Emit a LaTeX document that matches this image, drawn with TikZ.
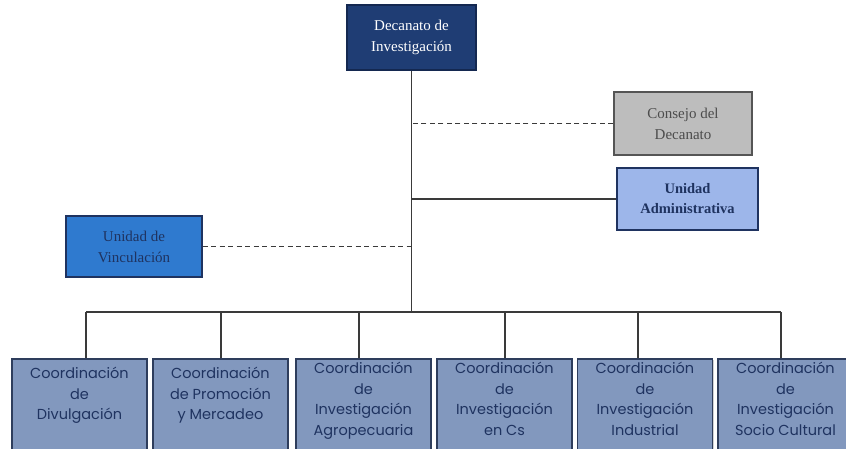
\documentclass[tikz,border=0pt]{standalone}
\usepackage{fontspec}
\setmainfont{Liberation Serif}
\newfontfamily\gothic{Poppins}
\usetikzlibrary{shadows}
\definecolor{topfill}{HTML}{1F3D74}
\definecolor{topdraw}{HTML}{142850}
\definecolor{consfill}{HTML}{BDBDBD}
\definecolor{consdraw}{HTML}{555555}
\definecolor{admfill}{HTML}{9DB6EA}
\definecolor{vinfill}{HTML}{2F7ACF}
\definecolor{navy}{HTML}{1F3360}
\definecolor{coordfill}{HTML}{8298BE}
\definecolor{coorddraw}{HTML}{2E3D5C}
\definecolor{linecol}{HTML}{3A3A3A}
\begin{document}
\begin{tikzpicture}[x=1pt,y=-1pt,
  box/.style={draw, line width=1.2pt, rectangle, align=center, inner sep=2pt,
    drop shadow={shadow xshift=1pt, shadow yshift=-1pt, opacity=0.35}},
  topbox/.style={box, fill=topfill, draw=topdraw, text=white, font=\fontsize{15}{21}\selectfont,
    minimum width=129pt, minimum height=65pt},
  consbox/.style={box, fill=consfill, draw=consdraw, text=black!70, font=\fontsize{15}{21}\selectfont,
    minimum width=138pt, minimum height=63pt},
  admbox/.style={box, fill=admfill, draw=navy, text=navy, font=\bfseries\fontsize{14.5}{20}\selectfont,
    minimum width=141pt, minimum height=62pt},
  vinbox/.style={box, fill=vinfill, draw=navy, text=navy, font=\fontsize{15}{21}\selectfont,
    minimum width=136pt, minimum height=61pt},
  coordbox/.style={box, fill=coordfill, draw=coorddraw, minimum width=135pt, minimum height=100pt},
  coordtext/.style={text=navy, align=center, inner sep=0pt, anchor=north,
    font=\gothic\fontsize{14.5}{20.5}\selectfont},
  conn/.style={draw=linecol, line width=1.1pt},
  dconn/.style={conn, dash pattern=on 5pt off 3.5pt}]
\useasboundingbox (0,0) rectangle (846,448);
\clip (0,0) rectangle (846,448);
\fill[white] (0,0) rectangle (846,448);

\coordinate (busC) at (411.5,312);
\coordinate (d1) at (86,312);
\coordinate (d2) at (221,312);
\coordinate (d3) at (359,312);
\coordinate (d4) at (505,312);
\coordinate (d5) at (638,312);
\coordinate (d6) at (781,312);

\node[topbox] (dec) at (411.5,37.5) {Decanato de\\Investigación};
\node[consbox] (cons) at (683,123.5) {Consejo del\\Decanato};
\node[admbox] (adm) at (687.5,199) {Unidad\\Administrativa};
\node[vinbox] (vin) at (134,246.5) {Unidad de\\Vinculación};

\node[coordbox] (c1) at (79.5,409) {};
\node[coordbox] (c2) at (220.5,409) {};
\node[coordbox] (c3) at (363.5,409) {};
\node[coordbox] (c4) at (504.5,409) {};
\node[coordbox] (c5) at (645,409) {};
\node[coordbox] (c6) at (785.5,409) {};

\draw[conn] (dec.south) -- (busC);
\draw[dconn] (cons.west) -- (cons.west -| busC);
\draw[conn] (adm.west) -- (adm.west -| busC);
\draw[dconn] (vin.east) -- (vin.east -| busC);
\draw[conn] (d1) -- (d6);
\draw[conn] (d1) -- (d1 |- c1.north);
\draw[conn] (d2) -- (d2 |- c2.north);
\draw[conn] (d3) -- (d3 |- c3.north);
\draw[conn] (d4) -- (d4 |- c4.north);
\draw[conn] (d5) -- (d5 |- c5.north);
\draw[conn] (d6) -- (d6 |- c6.north);

\node[coordtext] (t1) at (79.5,367) {Coordinación\\de\\Divulgación};
\node[coordtext] (t2) at (220.5,367) {Coordinación\\de Promoción\\y Mercadeo};
\node[coordtext] (t3) at (363.5,362) {Coordinación\\de\\Investigación\\Agropecuaria};
\node[coordtext] (t4) at (504.5,362) {Coordinación\\de\\Investigación\\en Cs};
\node[coordtext] (t5) at (645,362) {Coordinación\\de\\Investigación\\Industrial};
\node[coordtext] (t6) at (785.5,362) {Coordinación\\de\\Investigación\\Socio Cultural};
\end{tikzpicture}
\end{document}
